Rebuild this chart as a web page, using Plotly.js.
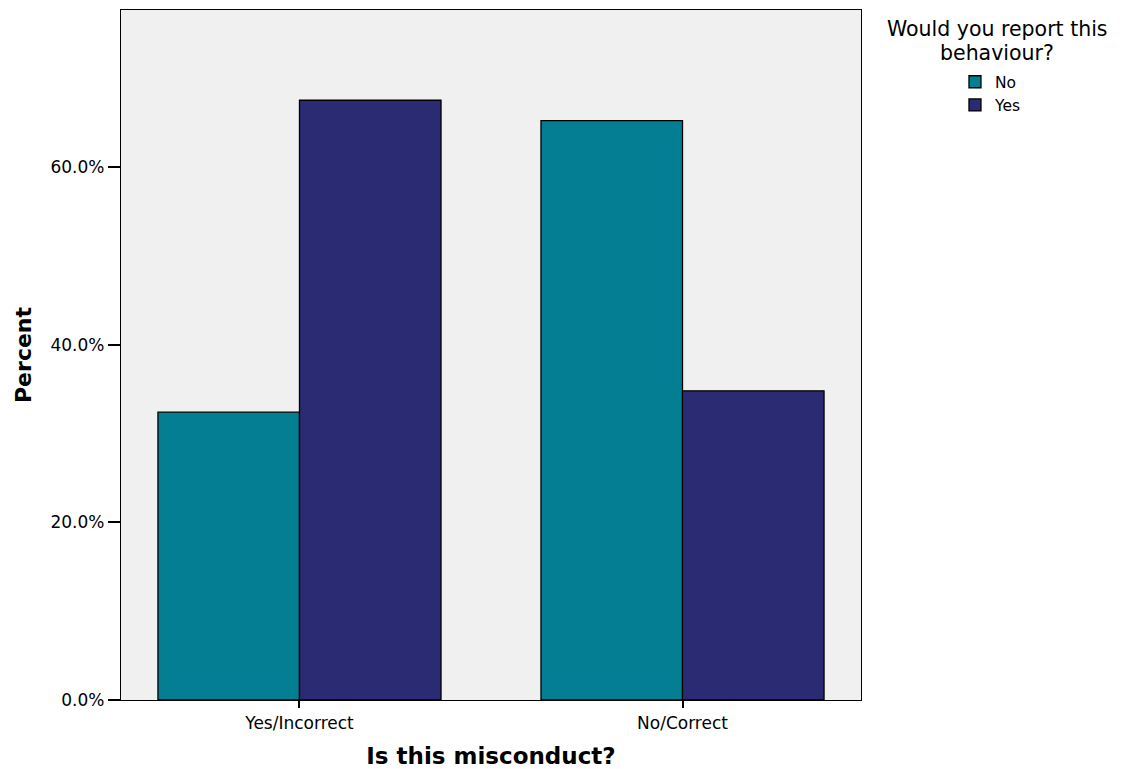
<!DOCTYPE html>
<html><head><meta charset="utf-8">
<script src="https://cdn.plot.ly/plotly-3.0.1.min.js"></script>
<style>body{margin:0;background:#fff}</style>
</head><body>
<div id="chart" style="width:1123px;height:769px"></div>
<script>
const categories = ["Yes/Incorrect", "No/Correct"];
const seriesNames = ["No", "Yes"];
const valuesNo = [32.4, 65.2];
const valuesYes = [67.5, 34.8];
const tickVals = [0, 20, 40, 60];
const tickText = ["0.0%", "20.0%", "40.0%", "60.0%"];
const legendTitleLines = ["Would you report this", "behaviour?"];

const colors = ["#037E93", "#2A2B73"];
const data = [valuesNo, valuesYes].map((v, i) => ({
  type: "bar", name: seriesNames[i], x: categories, y: v,
  marker: {color: colors[i], line: {color: "#000", width: 1.3}},
  hoverinfo: "y"
}));

const layout = {
  width: 1123, height: 769,
  margin: {l: 121, r: 262, t: 10, b: 69},
  paper_bgcolor: "#fff", plot_bgcolor: "#F0F0F0",
  barmode: "group", bargap: 0.261, bargroupgap: 0,
  font: {family: "DejaVu Sans, Verdana, sans-serif", color: "#000"},
  xaxis: {
    range: [-0.466, 1.466], showgrid: false, zeroline: false,
    showline: true, linecolor: "#000", linewidth: 1.3, mirror: true,
    ticks: "outside", ticklen: 7, tickwidth: 2, tickcolor: "#000",
    tickfont: {size: 17},
    title: {text: "<b>Is this misconduct?</b>", font: {size: 23}, standoff: 16}
  },
  yaxis: {
    range: [0, 77.66], showgrid: false, zeroline: false,
    showline: true, linecolor: "#000", linewidth: 1.3, mirror: true,
    tickvals: tickVals, ticktext: tickText,
    ticks: "outside", ticklen: 12, tickwidth: 2, tickcolor: "#000",
    tickfont: {size: 17},
    title: {text: "<b>Percent</b>", font: {size: 22}, standoff: 12}
  },
  legend: {
    x: 1.127, xanchor: "left", y: 0.92, yanchor: "top",
    font: {size: 15.5}, tracegroupgap: 0, itemwidth: 30,
    bgcolor: "rgba(0,0,0,0)"
  },
  annotations: legendTitleLines.map((t, i) => ({
    xref: "paper", yref: "paper", x: 1.184, y: [0.9725, 0.937][i],
    xanchor: "center", yanchor: "middle", borderpad: 0,
    text: t, showarrow: false, font: {size: 20.5}
  })),
  showlegend: true
};
Plotly.newPlot("chart", data, layout, {displayModeBar: false});
</script>
</body></html>
